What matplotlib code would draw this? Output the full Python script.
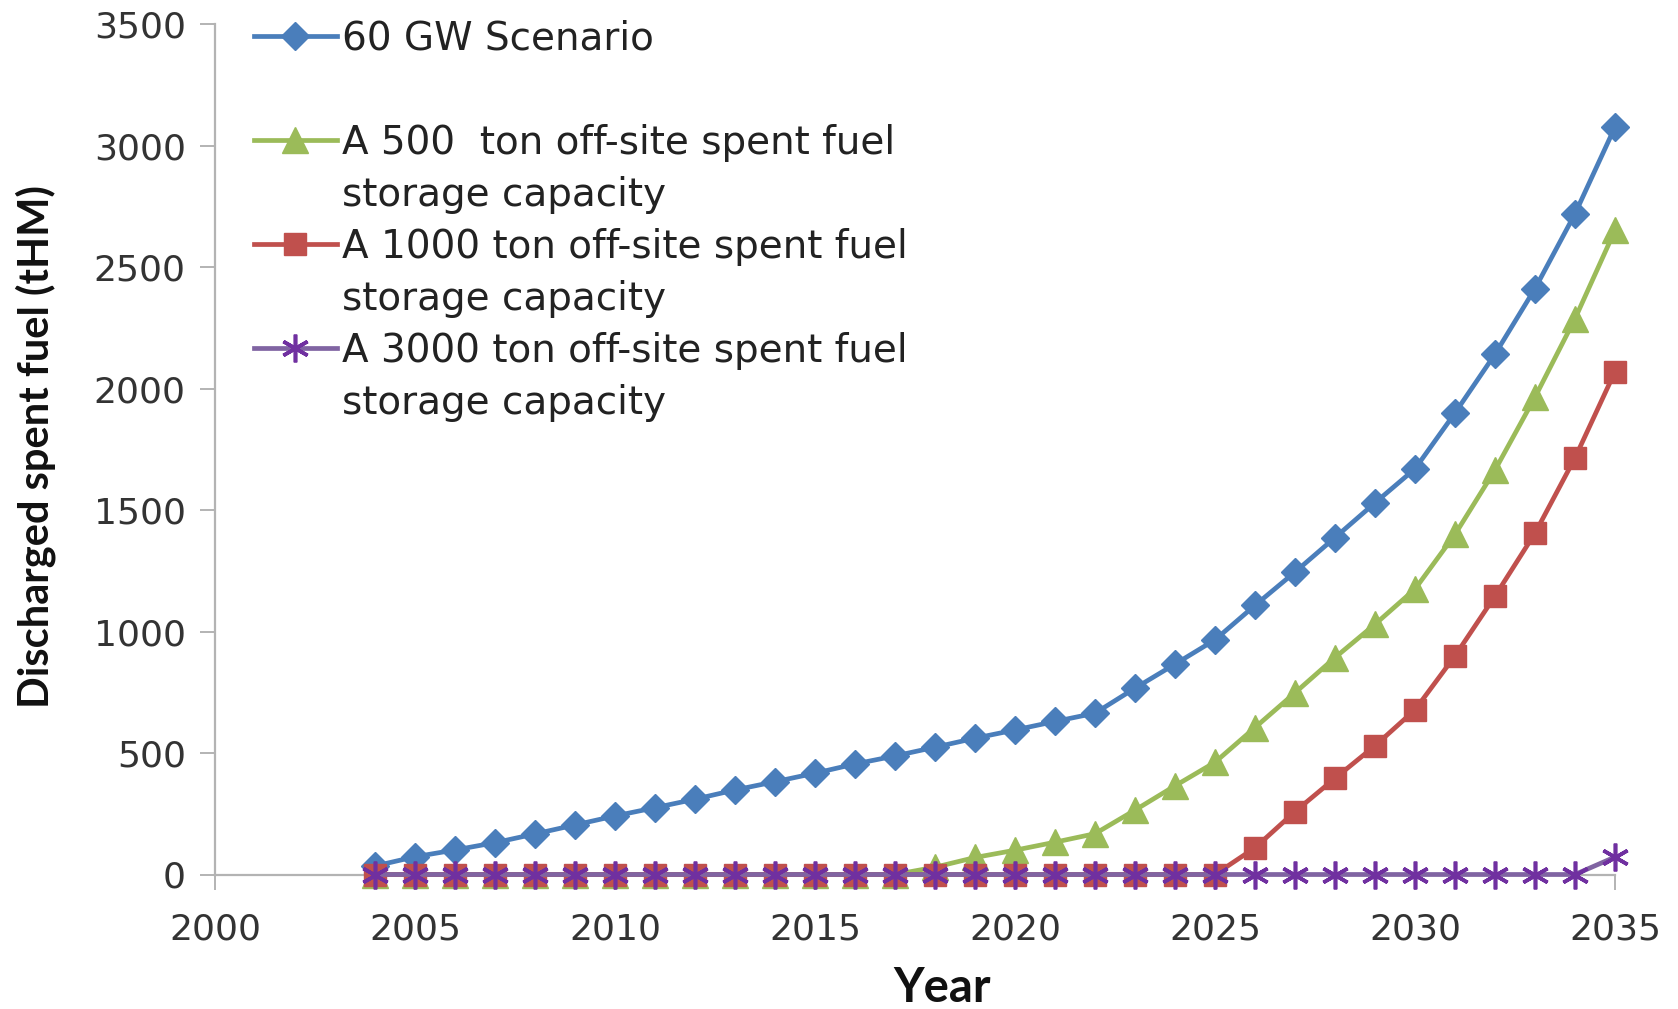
import matplotlib
matplotlib.use("Agg")
import matplotlib.pyplot as plt
from matplotlib.lines import Line2D

# ---------------- data ----------------
years = list(range(2004, 2036))

gw60 = [35, 73, 101, 131, 167, 204, 241, 275, 310, 348, 382, 417, 455, 488,
        524, 561, 595, 630, 664, 767, 866, 966, 1108, 1245, 1387, 1530,
        1670, 1900, 2142, 2412, 2720, 3077]

cap500 = [0, 0, 0, 0, 0, 0, 0, 0, 0, 0, 0, 0, 0, 0,
          30, 70, 100, 133, 168, 265, 365, 462, 605, 748, 893, 1030,
          1175, 1400, 1665, 1965, 2288, 2652]

cap1000 = [0, 0, 0, 0, 0, 0, 0, 0, 0, 0, 0, 0, 0, 0,
           0, 0, 0, 0, 0, 0, 0, 0, 110, 259, 396, 530,
           678, 900, 1146, 1405, 1715, 2070]

cap3000 = [0, 0, 0, 0, 0, 0, 0, 0, 0, 0, 0, 0, 0, 0,
           0, 0, 0, 0, 0, 0, 0, 0, 0, 0, 0, 0,
           0, 0, 0, 0, 0, 72]

labels = ["60 GW Scenario",
          "A 500  ton off-site spent fuel",
          "A 1000 ton off-site spent fuel",
          "A 3000 ton off-site spent fuel"]
second_line = "storage capacity"

x_ticks = [2000, 2005, 2010, 2015, 2020, 2025, 2030, 2035]
y_ticks = [0, 500, 1000, 1500, 2000, 2500, 3000, 3500]

# ---------------- figure ----------------
W, H = 1678, 1009
fig = plt.figure(figsize=(W / 100, H / 100), dpi=100)
ax = fig.add_axes([215 / W, 1 - 874.5 / H, 1400 / W, 850.2 / H])

blue = "#4A7EBB"
green = "#9BBB59"
red = "#C0504D"
purple_line = "#8064A2"
purple_mark = "#7030A0"

l1, = ax.plot(years, gw60, color=blue, lw=3.4, marker="D", ms=14,
              mfc=blue, mec=blue, clip_on=False, zorder=4)
l2, = ax.plot(years, cap500, color=green, lw=3.4, marker="^", ms=19,
              mfc=green, mec=green, clip_on=False, zorder=5)
l3, = ax.plot(years, cap1000, color=red, lw=3.4, marker="s", ms=16,
              mfc=red, mec=red, clip_on=False, zorder=6)
l4, = ax.plot(years, cap3000, color=purple_line, lw=3.4, marker=(6, 2, 0), ms=20,
              mfc=purple_mark, mec=purple_mark, mew=2.6, clip_on=False, zorder=7)

ax.set_xlim(2000, 2035)
ax.set_ylim(0, 3500)
ax.set_xticks(x_ticks)
ax.set_yticks(y_ticks)

for s in ["top", "right"]:
    ax.spines[s].set_visible(False)
for s in ["left", "bottom"]:
    ax.spines[s].set_color("#B3B3B3")
    ax.spines[s].set_linewidth(1.6)
    ax.spines[s].set_zorder(1)

ax.tick_params(axis="y", direction="out", length=11, width=1.4, color="#B3B3B3",
               pad=10, labelsize=26, labelcolor="#333333")
ax.tick_params(axis="x", direction="out", length=11, width=1.4, color="#B3B3B3",
               pad=16, labelsize=26, labelcolor="#333333")
for t in ax.get_xticklabels() + ax.get_yticklabels():
    t.set_fontfamily("DejaVu Sans")

ax.set_ylabel("Discharged spent fuel (tHM)", fontfamily="Lato", fontweight="bold",
              fontsize=30, color="#111111", va="center", ha="center")
ax.yaxis.set_label_coords((36 - 215) / 1400, (874.5 - 447) / 850.2)
ax.set_xlabel("Year", fontfamily="Lato", fontweight="bold", fontsize=34,
              color="#111111", va="center", ha="center")
ax.xaxis.set_label_coords((942 - 215) / 1400, (874.5 - 988) / 850.2)

blank = Line2D([], [], linestyle="none", marker=None)
handles = [l1, blank, l2, blank, l3, blank, l4, blank]
leg_labels = [labels[0], " ", labels[1], second_line, labels[2], second_line,
              labels[3], second_line]
leg = fig.legend(handles, leg_labels, loc="upper left",
                 bbox_to_anchor=(254 / W, 1 - 20 / H), frameon=False,
                 prop={"family": "DejaVu Sans", "size": 28},
                 handlelength=2.13, handletextpad=0.14, labelspacing=0.36,
                 borderpad=0, borderaxespad=0, markerscale=1.0)
for t in leg.get_texts():
    t.set_color("#222222")

fig.savefig("out.png", dpi=100, facecolor="white")
